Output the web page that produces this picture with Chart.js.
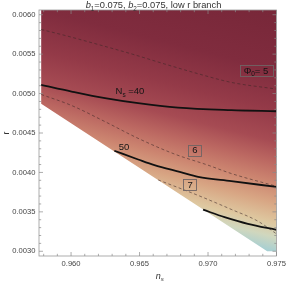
<!DOCTYPE html>
<html><head><meta charset="utf-8">
<script src="https://cdn.jsdelivr.net/npm/chart.js@4"></script>
<style>html,body{margin:0;padding:0;background:#fff;overflow:hidden}canvas{display:block}</style>
</head><body>
<canvas id="c" width="289" height="281"></canvas>
<script>
// ---- axis ticks ----
const xTicks = [0.960, 0.965, 0.970, 0.975];
const yTicks = [0.0030, 0.0035, 0.0040, 0.0045, 0.0050, 0.0055, 0.0060];

// ---- allowed (coloured) region: n_s, r ----
const regionNs = [0.95782, 0.97500, 0.97500, 0.97432, 0.95782, 0.95782];
const regionR  = [0.00610, 0.00610, 0.00300, 0.00300, 0.00487, 0.00610];

// ---- N_s contours (solid) ----
const n40Ns = [0.95782, 0.96004, 0.96248, 0.96490, 0.96781, 0.97170, 0.97500];
const n40R  = [0.005110, 0.005026, 0.004942, 0.004878, 0.004822, 0.004790, 0.004776];
const n50Ns = [0.96316, 0.96490, 0.96609, 0.96800, 0.96928, 0.97170, 0.97500];
const n50R  = [0.004275, 0.004164, 0.004092, 0.004005, 0.003945, 0.003890, 0.003816];
const n60Ns = [0.96964, 0.97121, 0.97291, 0.97500];
const n60R  = [0.003527, 0.003433, 0.003348, 0.003272];

// ---- Phi_0 contours (dashed) ----
const phi5Ns = [0.95782, 0.95956, 0.96199, 0.96442, 0.96684, 0.96927, 0.97170, 0.97500];
const phi5R  = [0.005813, 0.005737, 0.005622, 0.005503, 0.005375, 0.005252, 0.005142, 0.005057];
const phi6Ns = [0.95782, 0.96005, 0.96248, 0.96490, 0.96757, 0.97000, 0.97170, 0.97500];
const phi6R  = [0.004989, 0.004848, 0.004644, 0.004432, 0.004232, 0.004092, 0.003986, 0.003824];
const phi7Ns = [0.96636, 0.96927, 0.97170, 0.97364, 0.97500];
const phi7R  = [0.003905, 0.003709, 0.003531, 0.003382, 0.003221];

// ---- contour labels ----
const labelTexts = ['N_s =40', '50', 'Φ_0= 5', '6', '7'];
const labelNs    = [0.96430, 0.96386, 0.97350, 0.96905, 0.96869];
const labelR     = [0.005035, 0.004326, 0.005295, 0.004283, 0.003850];
const labelBoxed = [false, false, true, true, true];

const titleText = '*b_1=0.075, *b_2=0.075, low r branch';
const xTitle = '*n_*s';
const yTitle = 'r';

const FAM = "'Liberation Sans', Arial, sans-serif";
const toXY = (xs, ys) => xs.map((v, i) => ({x: v, y: ys[i]}));

function parseRich(str) {
  const parts = []; let buf = ''; let it = false;
  for (let i = 0; i < str.length; i++) {
    const c = str[i];
    if (c === '*') { if (buf) parts.push({t: buf, sub: false, it: false}); buf = ''; it = true; continue; }
    if (c === '_') {
      if (buf) parts.push({t: buf, sub: false, it: false}); buf = '';
      let j = i + 1, sit = false;
      if (str[j] === '*') { sit = true; j++; }
      parts.push({t: str[j], sub: true, it: sit}); i = j; continue;
    }
    if (it) { if (buf) parts.push({t: buf, sub: false, it: false}); buf = ''; parts.push({t: c, sub: false, it: true}); it = false; continue; }
    buf += c;
  }
  if (buf) parts.push({t: buf, sub: false, it: false});
  return parts;
}
function drawRich(ctx, str, cx, cy, size, color, measureOnly) {
  const parts = parseRich(str);
  const fontFor = p => `${p.it ? 'italic ' : ''}${p.sub ? size * 0.68 : size}px ${FAM}`;
  let w = 0;
  parts.forEach(p => { ctx.font = fontFor(p); p.w = ctx.measureText(p.t).width; w += p.w; });
  if (measureOnly) return w;
  let x = cx - w / 2;
  ctx.save();
  ctx.fillStyle = color; ctx.textAlign = 'left'; ctx.textBaseline = 'alphabetic';
  const base = cy + size * 0.35;
  parts.forEach(p => { ctx.font = fontFor(p); ctx.fillText(p.t, x, base + (p.sub ? size * 0.3 : 0)); x += p.w; });
  ctx.restore();
  return w;
}

// colour ramp of the density shading (style)
const rampStops = [
  [-70, 'rgb(118,38,56)'], [0, 'rgb(128,44,62)'], [40, 'rgb(148,58,72)'], [70, 'rgb(166,75,83)'],
  [90, 'rgb(187,103,97)'], [110, 'rgb(204,133,112)'], [130, 'rgb(216,166,132)'],
  [150, 'rgb(222,200,160)'], [163, 'rgb(208,215,190)'], [180, 'rgb(160,206,214)']
];
function regionFill(context) {
  const chart = context.chart; const a = chart.chartArea;
  if (!a) return 'rgba(0,0,0,0)';
  const dx = -0.243, dy = 0.970, s0 = -70, s1 = 180;
  const g = chart.ctx.createLinearGradient(a.left + s0 * dx, a.top + s0 * dy, a.left + s1 * dx, a.top + s1 * dy);
  rampStops.forEach(([s, c]) => g.addColorStop((s - s0) / (s1 - s0), c));
  return g;
}

const solid = (xs, ys) => ({data: toXY(xs, ys), showLine: true, borderColor: '#111', borderWidth: 1.8,
  pointRadius: 0, fill: false, cubicInterpolationMode: 'monotone', order: 1});
const dashed = (xs, ys) => ({data: toXY(xs, ys), showLine: true, borderColor: 'rgba(60,40,40,0.75)', borderWidth: 0.75,
  borderDash: [3, 2.5], pointRadius: 0, fill: false, cubicInterpolationMode: 'monotone', order: 2});

const labelPlugin = {
  id: 'labels',
  afterDatasetsDraw(chart) {
    const {ctx, scales: {x, y}} = chart;
    labelTexts.forEach((t, i) => {
      const px = x.getPixelForValue(labelNs[i]), py = y.getPixelForValue(labelR[i]);
      const size = 9.5;
      if (labelBoxed[i]) {
        const w = drawRich(ctx, t, px, py, size, '#000', true);
        ctx.save(); ctx.strokeStyle = 'rgb(112,100,100)'; ctx.lineWidth = 0.9;
        ctx.strokeRect(Math.round(px - w / 2 - 4) + 0.5, Math.round(py - 5.5) + 0.5, Math.round(w + 8), 11);
        ctx.restore();
      }
      drawRich(ctx, t, px, py, size, '#151515');
    });
  }
};

const framePlugin = {
  id: 'frame',
  afterDraw(chart) {
    const {ctx, chartArea: a, scales: {x, y}} = chart;
    ctx.save();
    ctx.strokeStyle = '#9a9a9a'; ctx.lineWidth = 0.8;
    ctx.strokeRect(a.left, a.top, a.right - a.left, a.bottom - a.top);
    ctx.strokeStyle = '#8a8a8a'; ctx.lineWidth = 0.7;
    ctx.beginPath();
    for (let k = 958; k <= 975; k++) {
      const v = k / 1000; const px = x.getPixelForValue(v);
      const L = (k % 5 === 0) ? 4 : 2.2;
      ctx.moveTo(px, a.bottom); ctx.lineTo(px, a.bottom - L);
      ctx.moveTo(px, a.top); ctx.lineTo(px, a.top + L);
    }
    for (let k = 30; k <= 60; k++) {
      const v = k / 10000; const py = y.getPixelForValue(v);
      const L = (k % 5 === 0) ? 4 : 2.2;
      ctx.moveTo(a.left, py); ctx.lineTo(a.left + L, py);
      ctx.moveTo(a.right, py); ctx.lineTo(a.right - L, py);
    }
    ctx.stroke();
    ctx.restore();
    // title and axis titles
    drawRich(ctx, titleText, 153.5, 5, 9.3, '#333');
    drawRich(ctx, xTitle, (a.left + a.right) / 2 + 2, 275.5, 9, '#333');
    ctx.save();
    ctx.translate(6, (a.top + a.bottom) / 2);
    ctx.rotate(-Math.PI / 2);
    drawRich(ctx, yTitle, 0, 0, 9, '#333');
    ctx.restore();
  }
};

new Chart(document.getElementById('c'), {
  type: 'scatter',
  data: {datasets: [
    solid(n40Ns, n40R), solid(n50Ns, n50R), solid(n60Ns, n60R),
    dashed(phi5Ns, phi5R), dashed(phi6Ns, phi6R), dashed(phi7Ns, phi7R),
    {data: toXY(regionNs, regionR), showLine: true, fill: 'shape', backgroundColor: regionFill,
     borderWidth: 0, borderColor: 'rgba(0,0,0,0)', pointRadius: 0, tension: 0, order: 10}
  ]},
  options: {
    responsive: false, animation: false, devicePixelRatio: 1,
    layout: {padding: {top: 10, right: 10, left: 0, bottom: 0}},
    plugins: {legend: {display: false}, tooltip: {enabled: false}, title: {display: false}},
    scales: {
      x: {type: 'linear', min: 0.95766, max: 0.975,
        afterBuildTicks: s => { s.ticks = xTicks.map(v => ({value: v})); },
        afterFit: s => { s.height = 25; },
        grid: {display: false, drawTicks: false}, border: {display: false},
        ticks: {padding: 3, autoSkip: false, maxRotation: 0, color: '#444',
          font: {family: FAM, size: 7.6}, callback: v => Number(v).toFixed(3)}},
      y: {type: 'linear', min: 0.00294, max: 0.00606,
        afterBuildTicks: s => { s.ticks = yTicks.map(v => ({value: v})); },
        afterFit: s => { s.width = 39; },
        grid: {display: false, drawTicks: false}, border: {display: false},
        ticks: {padding: 3.5, autoSkip: false, color: '#444',
          font: {family: FAM, size: 7.6}, callback: v => Number(v).toFixed(4)}}
    }
  },
  plugins: [labelPlugin, framePlugin]
});
</script>
</body></html>
